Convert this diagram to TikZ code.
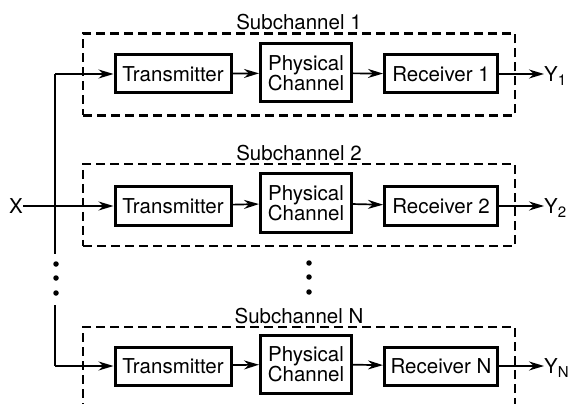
\documentclass[tikz,border=0pt]{standalone}
\usepackage{fontspec}
\setmainfont{TeX Gyre Heros}
\usetikzlibrary{arrows.meta}

\begin{document}
\begin{tikzpicture}[
  x=1pt, y=-1pt,
  every node/.style={font=\fontsize{20.5}{20}\selectfont, inner sep=0pt},
  blockbox/.style={draw, line width=3pt, align=center, minimum height=38pt},
  subbox/.style={draw, line width=2.4pt, dash pattern=on 9pt off 5pt,
    minimum width=432pt, minimum height=82pt},
  dot/.style={circle, fill, minimum size=5.5pt},
  wire/.style={line width=1.7pt},
  flow/.style={wire, -{Stealth[length=15pt,width=9pt]}},
]
\useasboundingbox (0,0) rectangle (574,404);
\clip (0,0) rectangle (574,404);
%-------------------------------------------------------------
\newcommand{\txw}{116pt}
\newcommand{\chw}{91pt}
\newcommand{\rxw}{113pt}
\newcommand{\ysub}[1]{Y\raisebox{-4pt}{\fontsize{15}{15}\selectfont #1}}

%============================================================
\node[subbox, label={[yshift=2pt]above:Subchannel 1}] (sc1) at (299,74.5) {};
\node[blockbox, minimum width=\txw] (tx1) at (173,74) {Transmitter};
\node[blockbox, minimum width=\chw, minimum height=58pt] (ch1) at (306,73) {Physical\\Channel};
\node[blockbox, minimum width=\rxw] (rx1) at (441,74) {Receiver 1};
\node[anchor=west] (Y1) at (544,76) {\ysub{1}};
%============================================================
\node[subbox, label={[yshift=2pt]above:Subchannel 2}] (sc2) at (299,205) {};
\node[blockbox, minimum width=\txw] (tx2) at (173,206) {Transmitter};
\node[blockbox, minimum width=\chw, minimum height=58pt] (ch2) at (306,203) {Physical\\Channel};
\node[blockbox, minimum width=\rxw] (rx2) at (441,206) {Receiver 2};
\node[anchor=west] (Y2) at (544,208) {\ysub{2}};
%============================================================
\node[subbox, label={[yshift=2pt]above:Subchannel N}] (sc3) at (299,368) {};
\node[blockbox, minimum width=\txw] (tx3) at (173,366) {Transmitter};
\node[blockbox, minimum width=\chw, minimum height=58pt] (ch3) at (306,364) {Physical\\Channel};
\node[blockbox, minimum width=\rxw] (rx3) at (441,366) {Receiver N};
\node[anchor=west] (Y3) at (544,368) {\ysub{N}};
%============================================================

% input and splitting line
\node (X) at (16,206) {X};
\coordinate (sp1) at (55,74);
\coordinate (gap1) at (55,254);
\coordinate (gap2) at (55,305);
\coordinate (sp3) at (55,366);

\node[dot] (ld1) at (56,264) {};
\node[dot] (ld2) at (56,278) {};
\node[dot] (ld3) at (56,293) {};
\node[dot] (md1) at (309,263) {};
\node[dot] (md2) at (309,277) {};
\node[dot] (md3) at (309,292) {};

\draw[wire] (sp1) -- (gap1);
\draw[wire] (gap2) -- (sp3);
\draw[flow] (X) -- (tx2);
\draw[flow] (sp1) -- (tx1);
\draw[flow] (sp3) -- (tx3);

\draw[flow] (tx1) -- (ch1);
\draw[flow] (ch1) -- (rx1);
\draw[flow] (rx1) -- (rx1 -| Y1.west);
\draw[flow] (tx2) -- (ch2);
\draw[flow] (ch2) -- (rx2);
\draw[flow] (rx2) -- (rx2 -| Y2.west);
\draw[flow] (tx3) -- (ch3);
\draw[flow] (ch3) -- (rx3);
\draw[flow] (rx3) -- (rx3 -| Y3.west);

\end{tikzpicture}
\end{document}
